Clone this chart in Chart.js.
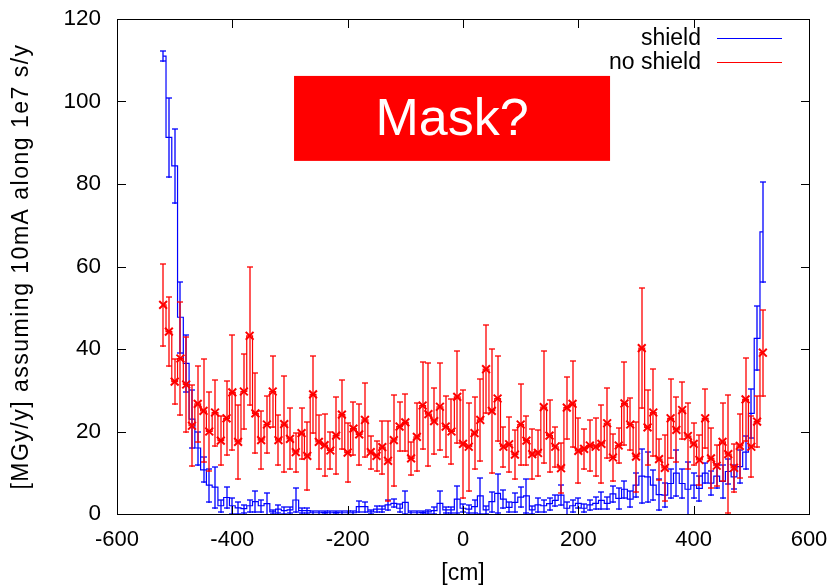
<!DOCTYPE html>
<html>
<head>
<meta charset="utf-8">
<script src="https://cdn.jsdelivr.net/npm/chart.js@4.4.1/dist/chart.umd.min.js"></script>
<style>
  html, body { margin: 0; padding: 0; background: #fff; }
  #wrap { width: 833px; height: 587px; }
</style>
</head>
<body>
<div id="wrap"><canvas id="grafica" width="833" height="587"></canvas></div>
<script>
// ── DATA ─────────────────────────────────────────────
const binCenters = [
  -520,-510,-500,-490,-480,-470,-460,-450,-440,-430,-420,-410,-400,-390,-380,-370,-360,-350,-340,-330,
  -320,-310,-300,-290,-280,-270,-260,-250,-240,-230,-220,-210,-200,-190,-180,-170,-160,-150,-140,-130,
  -120,-110,-100,-90,-80,-70,-60,-50,-40,-30,-20,-10,0,10,20,30,40,50,60,70,
  80,90,100,110,120,130,140,150,160,170,180,190,200,210,220,230,240,250,260,270,
  280,290,300,310,320,330,340,350,360,370,380,390,400,410,420,430,440,450,460,470,
  480,490,500,510,520
];

const shieldValues = [
  111.0,91.3,84.4,47.7,36.5,23.0,16.0,10.7,7.0,6.5,2.0,4.0,2.0,1.5,1.3,2.0,3.0,2.0,2.5,0.5,
  1.2,0.8,1.0,3.4,0.8,0.8,0.3,0.3,0.4,0.3,0.4,0.3,0.3,0.3,1.8,1.8,0.5,1.2,1.2,2.2,
  2.6,1.4,2.8,0.3,0.3,0.4,0.5,0.8,2.6,1.0,1.0,3.6,1.4,1.2,1.8,4.4,1.0,3.0,5.0,3.6,
  1.6,2.8,4.1,4.4,1.0,2.2,2.0,2.5,3.3,4.6,1.4,2.0,2.6,1.4,2.2,2.6,3.3,2.6,4.9,3.8,
  6.0,3.6,7.0,9.2,9.0,7.0,4.7,4.6,7.4,9.9,7.4,6.0,7.0,6.2,9.9,7.5,9.2,7.9,10.3,9.0,
  11.5,15.0,24.4,42.6,68.4
];
const shieldErrors = [
  1.3,9.6,9.0,8.6,7.0,7.0,4.0,3.0,4.0,5.0,1.5,2.5,2.0,1.5,1.0,1.5,2.5,1.5,2.7,0.5,
  1.0,0.8,0.8,2.9,0.6,0.6,0.4,0.4,0.4,0.4,0.4,0.4,0.4,0.4,1.4,1.2,0.5,0.8,0.8,1.3,
  1.0,1.0,2.7,0.4,0.4,0.4,0.5,0.8,2.9,0.8,0.8,3.3,1.0,1.0,1.6,4.4,1.0,2.4,4.7,2.1,
  1.2,2.3,2.5,4.1,1.0,1.6,1.5,1.5,1.3,2.5,1.5,1.5,1.2,1.0,1.2,1.5,2.1,1.5,2.0,2.5,
  2.0,2.0,2.9,6.5,6.1,3.7,3.8,3.0,3.5,5.5,3.5,6.5,3.0,3.0,2.5,3.0,3.0,4.0,3.0,3.0,
  4.0,4.0,6.0,7.8,12.2
];

const noShieldValues = [
  50.7,44.2,32.1,37.7,31.4,21.4,26.7,25.0,20.0,24.6,17.8,23.2,29.5,17.5,29.7,43.2,24.4,17.9,21.7,29.7,
  17.9,21.8,18.2,15.0,19.6,14.1,29.0,17.5,16.7,15.4,19.0,24.1,14.9,20.7,19.3,22.8,15.0,14.1,16.2,12.9,
  17.9,21.2,22.2,13.5,18.7,26.3,24.2,22.5,26.0,21.2,20.0,28.4,17.0,16.3,19.6,22.8,35.1,25.0,28.0,16.3,
  16.9,14.4,21.7,17.8,14.5,14.8,25.9,19.0,16.3,11.1,25.8,26.7,15.3,15.8,16.6,16.3,17.0,22.0,13.7,16.6,
  26.8,21.7,13.9,40.2,21.0,24.6,13.3,11.2,23.2,20.4,25.2,18.9,17.0,13.1,23.2,13.5,11.7,17.5,14.5,11.2,
  16.5,27.8,16.3,22.4,39.1
];
const noShieldErrors = [
  10.0,8.3,5.5,13.7,11.6,9.8,9.3,12.5,9.6,8.0,6.0,9.0,14.0,9.0,9.0,16.7,9.7,7.0,7.0,8.7,
  6.0,11.7,7.4,4.7,6.2,8.3,9.4,6.5,7.5,4.4,9.4,8.4,7.1,6.5,7.4,9.0,4.0,3.6,6.4,9.7,
  11.0,6.0,7.0,4.0,8.2,10.6,12.5,8.0,10.5,7.4,7.8,11.2,13.0,10.7,8.8,10.0,10.6,15.0,10.4,4.9,
  6.6,5.9,9.7,5.9,6.0,5.6,13.6,8.7,4.9,6.0,7.5,10.5,7.9,4.8,6.1,7.0,9.5,8.5,5.8,4.3,
  10.0,6.3,8.5,14.5,9.0,10.5,5.0,8.0,9.6,7.9,6.9,8.0,5.0,6.0,7.2,7.3,5.0,9.5,14.3,5.8,
  7.8,10.0,7.4,6.1,10.4
];

const xTicks = [-600, -400, -200, 0, 200, 400, 600];
const yTicks = [0, 20, 40, 60, 80, 100, 120];

const seriesNames = ['shield', 'no shield'];
const yTitle = '[MGy/y] assuming 10mA along 1e7 s/y';
const maskLabel = 'Mask?';
const maskBox = { xMin: -293, xMax: 255, yMin: 85.6, yMax: 106.2 };

const FONT = '"Liberation Sans", Arial, Helvetica, sans-serif';
const AZUL = '#0000ff';
const ROJO = '#ff0000';

// ── PLUGINS ──────────────────────────────────────────
function hLine(ctx, x1, x2, y, h = 1) { ctx.fillRect(Math.round(x1), Math.round(y), Math.round(x2 - x1) + 1, h); }
function vLine(ctx, x, y1, y2, w = 1) {
  const a = Math.round(Math.min(y1, y2)), b = Math.round(Math.max(y1, y2));
  ctx.fillRect(Math.round(x), a, w, b - a + 1);
}

// barras de error (2 px suaves, como el antialias de gnuplot)
const errorBars = {
  id: 'errorBars',
  afterDatasetDraw(chart, args) {
    const ds = chart.data.datasets[args.index];
    if (!ds.errors) return;
    const { ctx, chartArea: a, scales: { x, y } } = chart;
    ctx.save();
    ctx.fillStyle = ds.errColor;
    ctx.globalAlpha = 0.65;
    ds.data.forEach((p, i) => {
      const px = x.getPixelForValue(p.x);
      const top = y.getPixelForValue(p.y + ds.errors[i]);
      const bot = y.getPixelForValue(p.y - ds.errors[i]);
      vLine(ctx, px - 1, top, Math.min(bot, a.bottom), 2);
      hLine(ctx, px - 3, px + 2, top - 1, 2);
      if (bot <= a.bottom) hLine(ctx, px - 3, px + 2, bot - 1, 2);
    });
    ctx.restore();
  }
};

const marco = {
  id: 'marco',
  afterDraw(chart) {
    const { ctx, chartArea: a, scales: { x, y } } = chart;
    ctx.save();
    ctx.fillStyle = '#000';
    xTicks.forEach(v => {
      const px = x.getPixelForValue(v);
      vLine(ctx, px, a.bottom, a.bottom - 8);
      vLine(ctx, px, a.top, a.top + 8);
    });
    yTicks.forEach(v => {
      const py = y.getPixelForValue(v);
      hLine(ctx, a.left, a.left + 8, py);
      hLine(ctx, a.right - 8, a.right, py);
    });
    hLine(ctx, a.left, a.right, a.top);
    hLine(ctx, a.left, a.right, a.bottom);
    vLine(ctx, a.left, a.top, a.bottom);
    vLine(ctx, a.right, a.top, a.bottom);

    // máscara
    const bx = x.getPixelForValue(maskBox.xMin), bx2 = x.getPixelForValue(maskBox.xMax);
    const by = y.getPixelForValue(maskBox.yMax), by2 = y.getPixelForValue(maskBox.yMin);
    ctx.fillStyle = ROJO;
    ctx.fillRect(bx, by, bx2 - bx, by2 - by);
    ctx.fillStyle = '#fff';
    ctx.font = '52px ' + FONT;
    ctx.textAlign = 'center';
    ctx.textBaseline = 'middle';
    ctx.fillText(maskLabel, (bx + bx2) / 2, (by + by2) / 2 + 2);

    // leyenda
    ctx.font = '23px ' + FONT;
    ctx.textAlign = 'right';
    [AZUL, ROJO].forEach((c, i) => {
      const ly = a.top + 19 + i * 24;
      ctx.fillStyle = '#000';
      ctx.fillText(seriesNames[i], a.left + 584, ly + 1);
      ctx.fillStyle = c;
      hLine(ctx, a.left + 600, a.left + 664, ly);
    });

    // título eje y
    ctx.fillStyle = '#000';
    ctx.font = '23px ' + FONT;
    ctx.letterSpacing = '1.5px';
    ctx.translate(22, (a.top + a.bottom) / 2);
    ctx.rotate(-Math.PI / 2);
    ctx.textAlign = 'center';
    ctx.textBaseline = 'middle';
    ctx.fillText(yTitle, 0, 0);
    ctx.restore();
  }
};

// ── GRÁFICA ──────────────────────────────────────────
new Chart(document.getElementById('grafica'), {
  type: 'line',
  data: {
    datasets: [
      {
        label: seriesNames[0],
        data: binCenters.map((c, i) => ({ x: c, y: shieldValues[i] })),
        errors: shieldErrors,
        errColor: AZUL,
        borderColor: AZUL,
        borderWidth: 1.2,
        stepped: 'middle',
        pointRadius: 0,
        order: 2
      },
      {
        label: seriesNames[1],
        data: binCenters.map((c, i) => ({ x: c, y: noShieldValues[i] })),
        errors: noShieldErrors,
        errColor: ROJO,
        borderColor: ROJO,
        borderWidth: 1.2,
        stepped: 'middle',
        pointStyle: 'crossRot',
        pointRadius: 5.5,
        pointBorderWidth: 2,
        pointBorderColor: ROJO,
        order: 1
      }
    ]
  },
  options: {
    responsive: false,
    animation: false,
    layout: { padding: { left: 0, top: 19, right: 24, bottom: 0 } },
    plugins: { legend: { display: false }, tooltip: { enabled: false } },
    scales: {
      x: {
        type: 'linear', min: -600, max: 600,
        afterBuildTicks: s => { s.ticks = xTicks.map(v => ({ value: v })); },
        afterFit: s => { s.height = 73; s.paddingLeft = 0; s.paddingRight = 0; },
        grid: { display: false, drawTicks: false },
        border: { display: false },
        ticks: { color: '#000', padding: 13, maxRotation: 0, font: { family: FONT, size: 22 } },
        title: { display: true, text: '[cm]', color: '#000', padding: { top: 0, bottom: 0 }, font: { family: FONT, size: 23 } }
      },
      y: {
        min: 0, max: 120,
        afterBuildTicks: s => { s.ticks = yTicks.map(v => ({ value: v })); },
        afterFit: s => { s.width = 117; s.paddingTop = 0; s.paddingBottom = 0; },
        grid: { display: false, drawTicks: false },
        border: { display: false },
        ticks: { color: '#000', padding: 16, font: { family: FONT, size: 22.5 } }
      }
    }
  },
  plugins: [errorBars, marco]
});
</script>
</body>
</html>
